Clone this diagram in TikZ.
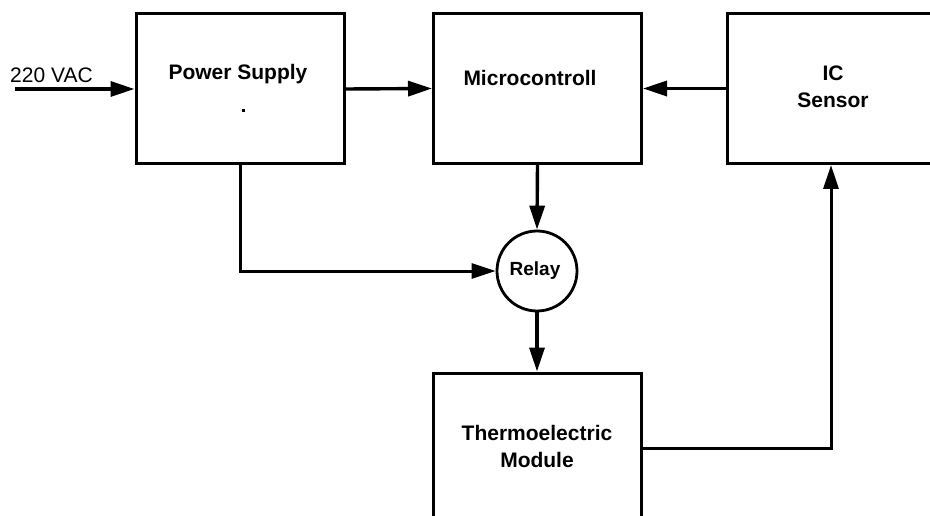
\documentclass[tikz,border=0pt]{standalone}
\usepackage{fontspec}
\setmainfont{Liberation Sans}
\usetikzlibrary{arrows.meta}
\begin{document}
\begin{tikzpicture}[x=1pt,y=-1pt,
  box/.style={draw, line width=3pt, minimum width=208pt, minimum height=150pt, inner sep=0pt},
  lbl/.style={font=\fontsize{21}{26}\selectfont\bfseries, align=center, inner sep=0pt},
  conn/.style={line width=3.4pt, -{Triangle[length=24pt,width=15pt]}},
  wire/.style={line width=3pt, -{Triangle[length=24pt,width=15pt]}}]
\useasboundingbox (0,0) rectangle (930,516);
\clip (0,0) rectangle (930,516);
\fill[white] (0,0) rectangle (930,516);
% boxes
\node[box] (ps) at (240,89) {};
\node[box] (mc) at (537.5,88.5) {};
\node[box] (ic) at (831,88.5) {};
\node[box] (te) at (537,448) {};
\node[draw, circle, line width=2.8pt, minimum size=80pt, inner sep=0pt] (relay) at (537,271) {};
% texts
\node[lbl] (pst) at (238,74) {Power Supply};
\node[fill=black, minimum size=3pt, inner sep=0pt] (dot) at (243,111) {};
\node[lbl] (mct) at (530,78) {Microcontroll};
\node[lbl] (ict) at (833,87) {IC\\[1pt]Sensor};
\node[lbl] (tet) at (537,446) {Thermoelectric\\[1pt]Module};
\node[lbl, font=\fontsize{19}{23}\selectfont\bfseries] (rlt) at (535,271) {Relay};
\node[font=\fontsize{21}{26}\selectfont, inner sep=0pt, anchor=west] (vac) at (10,75) {220 VAC};
% connectors
\coordinate (in) at (15,89);
\draw[conn] (in) -- (ps.west);
\draw[conn] (ps.east) -- (mc.west);
\draw[conn] (ic.west) -- (mc.east);
\draw[conn] (mc.south) -- (relay.north);
\draw[wire] (ps.south) |- (relay.west);
\draw[conn] (relay.south) -- (te.north);
\draw[wire] (te.east) -| (ic.south);
\end{tikzpicture}
\end{document}
